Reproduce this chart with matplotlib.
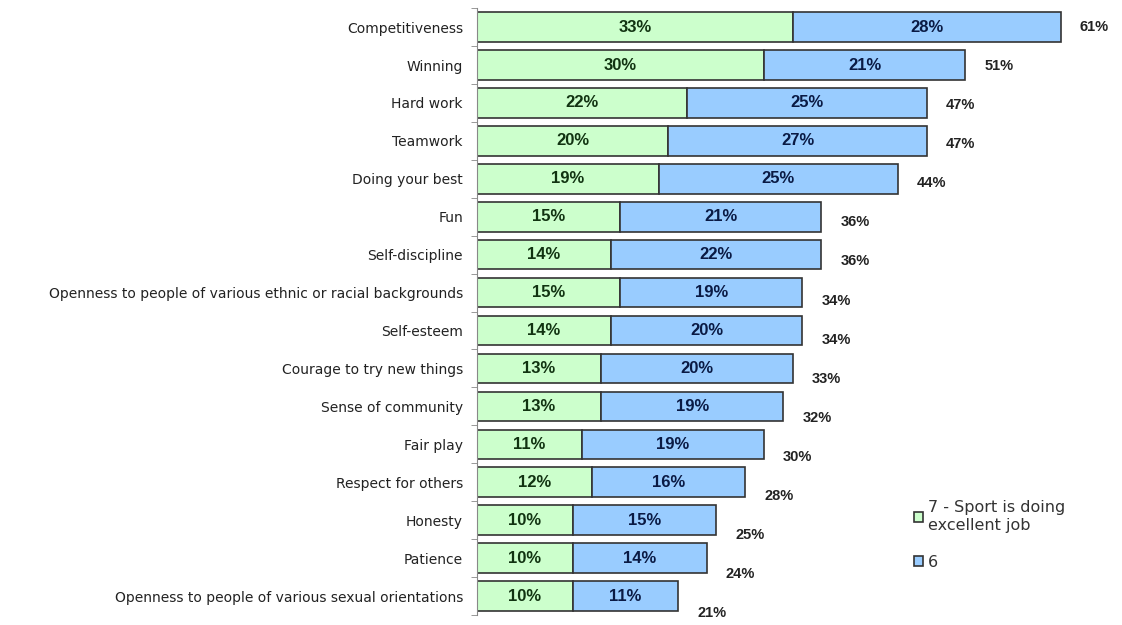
"""
Stacked horizontal bar chart: what sport is doing an excellent job at.
"""

import matplotlib.pyplot as plt
import numpy as np


CATEGORIES: list[str] = [
    "Competitiveness",
    "Winning",
    "Hard work",
    "Teamwork",
    "Doing your best",
    "Fun",
    "Self-discipline",
    "Openness to people of various ethnic or racial backgrounds",
    "Self-esteem",
    "Courage to try new things",
    "Sense of community",
    "Fair play",
    "Respect for others",
    "Honesty",
    "Patience",
    "Openness to people of various sexual orientations",
]

SCORE_7: list[int] = [33, 30, 22, 20, 19, 15, 14, 15, 14, 13, 13, 11, 12, 10, 10, 10]
SCORE_6: list[int] = [28, 21, 25, 27, 25, 21, 22, 19, 20, 20, 19, 19, 16, 15, 14, 11]
TOTALS: list[int] = [61, 51, 47, 47, 44, 36, 36, 34, 34, 33, 32, 30, 28, 25, 24, 21]

SERIES_NAMES: list[str] = ["7 - Sport is doing\nexcellent job", "6"]

GREEN = "#CCFFCC"
BLUE = "#99CCFF"

plt.rcParams["font.family"] = ["Liberation Sans", "DejaVu Sans"]


def create_chart() -> None:
    """
    Draw the stacked bars with labels.
    """
    fig = plt.figure(figsize=(11.22, 6.25), dpi=100)
    ax = fig.add_axes([0.425, 0.016, 0.575, 0.971])

    y = np.arange(len(CATEGORIES))

    bars7 = ax.barh(
        y, SCORE_7, height=0.78, color=GREEN,
        edgecolor="#333333", linewidth=1.2, label=SERIES_NAMES[0]
    )
    bars6 = ax.barh(
        y, SCORE_6, left=SCORE_7, height=0.78, color=BLUE,
        edgecolor="#333333", linewidth=1.2, label=SERIES_NAMES[1]
    )

    for bar, val in zip(bars7, SCORE_7):
        ax.text(
            bar.get_x() + bar.get_width() / 2, bar.get_y() + bar.get_height() / 2,
            f"{val}%", ha="center", va="center",
            fontsize=12, fontweight="bold", color="#113311"
        )

    for bar, val in zip(bars6, SCORE_6):
        ax.text(
            bar.get_x() + bar.get_width() / 2, bar.get_y() + bar.get_height() / 2,
            f"{val}%", ha="center", va="center",
            fontsize=12, fontweight="bold", color="#0A1A44"
        )

    for i, total in enumerate(TOTALS):
        ax.text(
            total + 2, i * 1.03, f"{total}%", ha="left", va="center",
            fontsize=10.5, fontweight="bold", color="#222222"
        )

    ax.set_xlim(0, 67.4)
    ax.set_ylim(len(CATEGORIES) - 0.5, -0.5)

    ax.set_yticks(y)
    ax.set_yticklabels(
        CATEGORIES, fontsize=10, color="#222222", family="DejaVu Sans"
    )
    ax.tick_params(axis="y", which="major", length=0, pad=10)
    ax.set_yticks(np.arange(len(CATEGORIES) + 1) - 0.5, minor=True)
    ax.tick_params(axis="y", which="minor", length=4, color="#888888")
    ax.set_xticks([])

    for side in ["top", "right", "bottom"]:
        ax.spines[side].set_visible(False)
    ax.spines["left"].set_color("#888888")

    ax.legend(
        loc="upper left", bbox_to_anchor=(0.655, 0.213),
        frameon=False, prop={"family": "DejaVu Sans", "size": 11.5},
        handlelength=0.6, handleheight=0.6,
        handletextpad=0.3, labelspacing=1.4, labelcolor="#333333"
    )

    fig.savefig("out.png", dpi=100)


def main() -> None:
    """
    Build and save the chart.
    """
    create_chart()


if __name__ == "__main__":
    main()
